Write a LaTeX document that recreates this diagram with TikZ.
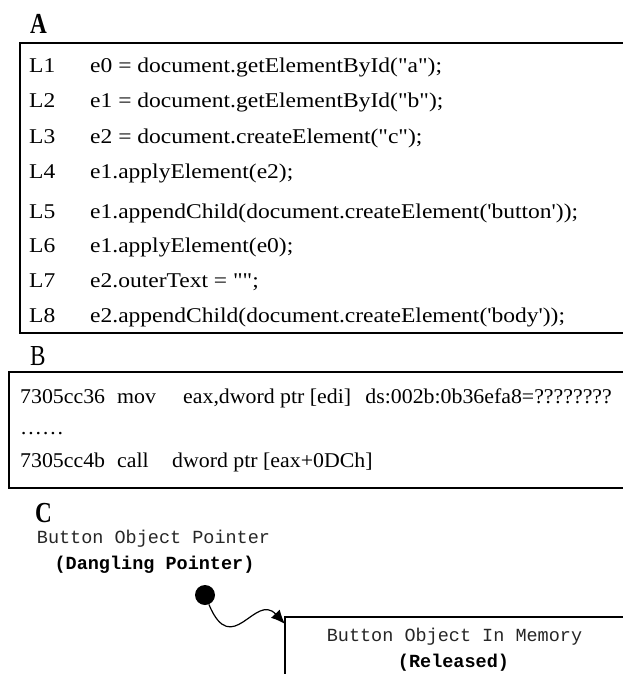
\documentclass[tikz,border=0pt]{standalone}
\usepackage{fontspec}
\setmainfont{Liberation Serif}
\newfontfamily\codefont[FakeStretch=1.12]{Liberation Serif}
\newfontfamily\asmfont[FakeStretch=1.04]{Liberation Serif}
\newfontfamily\titlefont[FakeStretch=0.8]{Liberation Serif}
\newfontfamily\monofont{Liberation Mono}
\usetikzlibrary{arrows.meta}

\tikzset{
  code/.style={anchor=base west, inner sep=0pt, font=\codefont\fontsize{21}{21}\selectfont},
  asm/.style={anchor=base west, inner sep=0pt, font=\asmfont\fontsize{21}{21}\selectfont},
  panel/.style={anchor=base west, inner sep=0pt, font=\titlefont\fontsize{29}{29}\selectfont},
  mono/.style={anchor=base, inner sep=0pt, font=\monofont\fontsize{18.5}{19}\selectfont},
  frame/.style={line width=1.3pt},
}

\begin{document}
\begin{tikzpicture}[x=1pt, y=-1pt]
\useasboundingbox (0,0) rectangle (623,674);
\clip (0,0) rectangle (623,674);

% A: script
\node [panel, font=\titlefont\bfseries\fontsize{29}{29}\selectfont] (A) at (30,34) {A};
\draw[frame] (20,43) rectangle (640,333);
\node [code] (L1) at (29,73) {L1};
\node [code] (E1) at (90,73) {e0 = document.getElementById("a");};
\node [code] (L2) at (29,108) {L2};
\node [code] (E2) at (90,108) {e1 = document.getElementById("b");};
\node [code] (L3) at (29,143) {L3};
\node [code] (E3) at (90,143) {e2 = document.createElement("c");};
\node [code] (L4) at (29,178.5) {L4};
\node [code] (E4) at (90,178.5) {e1.applyElement(e2);};
\node [code] (L5) at (29,218) {L5};
\node [code] (E5) at (90,218) {e1.appendChild(document.createElement('button'));};
\node [code] (L6) at (29,252) {L6};
\node [code] (E6) at (90,252) {e1.applyElement(e0);};
\node [code] (L7) at (29,287) {L7};
\node [code] (E7) at (90,287) {e2.outerText = "";};
\node [code] (L8) at (29,322) {L8};
\node [code] (E8) at (90,322) {e2.appendChild(document.createElement('body'));};

% B: crash site
\node [panel] (B) at (30,365) {B};
\draw[frame] (9,372) rectangle (640,488);
\node [asm] (M1) at (20,403.5) {7305cc36};
\node [asm] (O1) at (117,403.5) {mov};
\node [asm] (R1) at (183,403.5) {eax,dword ptr [edi]};
\node [asm, anchor=base east] (D1) at (612,403.5) {ds:002b:0b36efa8=????????};
\node [asm] (M2) at (20,434) {……};
\node [asm] (M3) at (20,467.5) {7305cc4b};
\node [asm] (O3) at (117,467.5) {call};
\node [asm] (R3) at (172,467.5) {dword ptr [eax+0DCh]};

% C: dangling pointer
\node [panel, font=\titlefont\bfseries\fontsize{29}{29}\selectfont] (C) at (35,522) {C};
\node [mono, black!85] (T1) at (153.5,543) {Button Object Pointer};
\node [mono, font=\monofont\bfseries\fontsize{18.5}{19}\selectfont] (T2) at (154.5,569) {(Dangling Pointer)};
\node [circle, fill, inner sep=0pt, minimum size=20pt] (P) at (205,595) {};
\draw[frame] (640,617) -- (285,617) -- (285,690);
\coordinate (K) at (285,624);
\node [mono, black!85] (T3) at (454.5,641) {Button Object In Memory};
\node [mono, font=\monofont\bfseries\fontsize{18.5}{19}\selectfont] (T4) at (453.5,667) {(Released)};
\draw[line width=1.2pt, -{Latex[length=14pt,width=12pt]}] (P) .. controls (232,660) and (255,592) .. (K);
\end{tikzpicture}
\end{document}
